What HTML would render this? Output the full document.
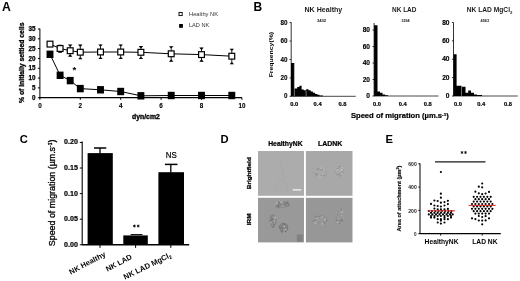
<!DOCTYPE html>
<html><head><meta charset="utf-8"><style>
html,body{margin:0;padding:0;background:#fff;}
svg{display:block;filter:blur(0.38px);}
text{font-family:"Liberation Sans", sans-serif;}
</style></head><body>
<svg width="520" height="281" viewBox="0 0 520 281">
<rect width="520" height="281" fill="#fff"/>
<text x="2.00" y="10.70" font-size="12.2" font-weight="bold" text-anchor="start" fill="#000" >A</text>
<text x="253.60" y="10.50" font-size="12.0" font-weight="bold" text-anchor="start" fill="#000" >B</text>
<text x="19.70" y="143.30" font-size="11.2" font-weight="bold" text-anchor="start" fill="#000" >C</text>
<text x="220.40" y="143.30" font-size="11.2" font-weight="bold" text-anchor="start" fill="#000" >D</text>
<text x="385.50" y="143.30" font-size="11.2" font-weight="bold" text-anchor="start" fill="#000" >E</text>
<line x1="39.90" y1="28.60" x2="39.90" y2="98.20" stroke="#000" stroke-width="1.0" />
<line x1="37.90" y1="97.70" x2="39.90" y2="97.70" stroke="#000" stroke-width="1.0" />
<text x="35.40" y="99.90" font-size="6.3" font-weight="bold" text-anchor="end" fill="#000" stroke="#000" stroke-width="0.25">0</text>
<line x1="37.90" y1="87.89" x2="39.90" y2="87.89" stroke="#000" stroke-width="1.0" />
<text x="35.40" y="90.09" font-size="6.3" font-weight="bold" text-anchor="end" fill="#000" stroke="#000" stroke-width="0.25">5</text>
<line x1="37.90" y1="78.07" x2="39.90" y2="78.07" stroke="#000" stroke-width="1.0" />
<text x="35.40" y="80.27" font-size="6.3" font-weight="bold" text-anchor="end" fill="#000" stroke="#000" stroke-width="0.25">10</text>
<line x1="37.90" y1="68.25" x2="39.90" y2="68.25" stroke="#000" stroke-width="1.0" />
<text x="35.40" y="70.45" font-size="6.3" font-weight="bold" text-anchor="end" fill="#000" stroke="#000" stroke-width="0.25">15</text>
<line x1="37.90" y1="58.44" x2="39.90" y2="58.44" stroke="#000" stroke-width="1.0" />
<text x="35.40" y="60.64" font-size="6.3" font-weight="bold" text-anchor="end" fill="#000" stroke="#000" stroke-width="0.25">20</text>
<line x1="37.90" y1="48.62" x2="39.90" y2="48.62" stroke="#000" stroke-width="1.0" />
<text x="35.40" y="50.83" font-size="6.3" font-weight="bold" text-anchor="end" fill="#000" stroke="#000" stroke-width="0.25">25</text>
<line x1="37.90" y1="38.81" x2="39.90" y2="38.81" stroke="#000" stroke-width="1.0" />
<text x="35.40" y="41.01" font-size="6.3" font-weight="bold" text-anchor="end" fill="#000" stroke="#000" stroke-width="0.25">30</text>
<line x1="37.90" y1="29.00" x2="39.90" y2="29.00" stroke="#000" stroke-width="1.0" />
<text x="35.40" y="31.20" font-size="6.3" font-weight="bold" text-anchor="end" fill="#000" stroke="#000" stroke-width="0.25">35</text>
<line x1="39.40" y1="97.70" x2="242.00" y2="97.70" stroke="#000" stroke-width="1.2" />
<line x1="39.90" y1="97.70" x2="39.90" y2="99.80" stroke="#000" stroke-width="1.0" />
<text x="39.90" y="107.60" font-size="6.3" font-weight="bold" text-anchor="middle" fill="#000" stroke="#000" stroke-width="0.1">0</text>
<line x1="80.30" y1="97.70" x2="80.30" y2="99.80" stroke="#000" stroke-width="1.0" />
<text x="80.30" y="107.60" font-size="6.3" font-weight="bold" text-anchor="middle" fill="#000" stroke="#000" stroke-width="0.1">2</text>
<line x1="120.70" y1="97.70" x2="120.70" y2="99.80" stroke="#000" stroke-width="1.0" />
<text x="120.70" y="107.60" font-size="6.3" font-weight="bold" text-anchor="middle" fill="#000" stroke="#000" stroke-width="0.1">4</text>
<line x1="161.10" y1="97.70" x2="161.10" y2="99.80" stroke="#000" stroke-width="1.0" />
<text x="161.10" y="107.60" font-size="6.3" font-weight="bold" text-anchor="middle" fill="#000" stroke="#000" stroke-width="0.1">6</text>
<line x1="201.50" y1="97.70" x2="201.50" y2="99.80" stroke="#000" stroke-width="1.0" />
<text x="201.50" y="107.60" font-size="6.3" font-weight="bold" text-anchor="middle" fill="#000" stroke="#000" stroke-width="0.1">8</text>
<line x1="241.90" y1="97.70" x2="241.90" y2="99.80" stroke="#000" stroke-width="1.0" />
<text x="241.90" y="107.60" font-size="6.3" font-weight="bold" text-anchor="middle" fill="#000" stroke="#000" stroke-width="0.1">10</text>
<text transform="translate(24.40,62.80) rotate(-90)" x="0" y="0" font-size="7.2" font-weight="bold" text-anchor="middle" fill="#000" textLength="80.50" lengthAdjust="spacingAndGlyphs" stroke="#000" stroke-width="0.3">% of initially settled cells</text>
<text x="132.00" y="118.90" font-size="7.4" font-weight="bold" text-anchor="start" fill="#000" textLength="27.80" lengthAdjust="spacingAndGlyphs" stroke="#000" stroke-width="0.35">dyn/cm2</text>
<polyline points="50.00,44.10 60.10,48.50 70.20,50.70 80.30,52.20 100.50,52.00 120.70,52.00 140.90,52.30 171.20,53.80 201.50,54.60 231.80,56.20" fill="none" stroke="#000" stroke-width="1.0"/>
<polyline points="50.00,54.30 60.10,75.30 70.20,80.60 80.30,88.60 100.50,89.80 120.70,91.50 140.90,95.80 171.20,95.50 201.50,95.50 231.80,95.50" fill="none" stroke="#000" stroke-width="1.0"/>
<line x1="60.10" y1="45.00" x2="60.10" y2="52.50" stroke="#000" stroke-width="0.9" />
<path d="M57.90,44.80 L62.30,44.80 L60.70,46.70 L59.50,46.70 Z" fill="#000"/>
<path d="M57.90,52.70 L62.30,52.70 L60.70,50.80 L59.50,50.80 Z" fill="#000"/>
<line x1="70.20" y1="44.70" x2="70.20" y2="56.50" stroke="#000" stroke-width="0.9" />
<path d="M68.00,44.50 L72.40,44.50 L70.80,46.40 L69.60,46.40 Z" fill="#000"/>
<path d="M68.00,56.70 L72.40,56.70 L70.80,54.80 L69.60,54.80 Z" fill="#000"/>
<line x1="80.30" y1="44.70" x2="80.30" y2="59.10" stroke="#000" stroke-width="0.9" />
<path d="M78.10,44.50 L82.50,44.50 L80.90,46.40 L79.70,46.40 Z" fill="#000"/>
<path d="M78.10,59.30 L82.50,59.30 L80.90,57.40 L79.70,57.40 Z" fill="#000"/>
<line x1="100.50" y1="44.60" x2="100.50" y2="58.90" stroke="#000" stroke-width="0.9" />
<path d="M98.30,44.40 L102.70,44.40 L101.10,46.30 L99.90,46.30 Z" fill="#000"/>
<path d="M98.30,59.10 L102.70,59.10 L101.10,57.20 L99.90,57.20 Z" fill="#000"/>
<line x1="120.70" y1="44.60" x2="120.70" y2="58.90" stroke="#000" stroke-width="0.9" />
<path d="M118.50,44.40 L122.90,44.40 L121.30,46.30 L120.10,46.30 Z" fill="#000"/>
<path d="M118.50,59.10 L122.90,59.10 L121.30,57.20 L120.10,57.20 Z" fill="#000"/>
<line x1="140.90" y1="46.20" x2="140.90" y2="58.90" stroke="#000" stroke-width="0.9" />
<path d="M138.70,46.00 L143.10,46.00 L141.50,47.90 L140.30,47.90 Z" fill="#000"/>
<path d="M138.70,59.10 L143.10,59.10 L141.50,57.20 L140.30,57.20 Z" fill="#000"/>
<line x1="171.20" y1="46.40" x2="171.20" y2="61.50" stroke="#000" stroke-width="0.9" />
<path d="M169.00,46.20 L173.40,46.20 L171.80,48.10 L170.60,48.10 Z" fill="#000"/>
<path d="M169.00,61.70 L173.40,61.70 L171.80,59.80 L170.60,59.80 Z" fill="#000"/>
<line x1="201.50" y1="47.70" x2="201.50" y2="61.50" stroke="#000" stroke-width="0.9" />
<path d="M199.30,47.50 L203.70,47.50 L202.10,49.40 L200.90,49.40 Z" fill="#000"/>
<path d="M199.30,61.70 L203.70,61.70 L202.10,59.80 L200.90,59.80 Z" fill="#000"/>
<line x1="231.80" y1="48.90" x2="231.80" y2="64.10" stroke="#000" stroke-width="0.9" />
<path d="M229.60,48.70 L234.00,48.70 L232.40,50.60 L231.20,50.60 Z" fill="#000"/>
<path d="M229.60,64.30 L234.00,64.30 L232.40,62.40 L231.20,62.40 Z" fill="#000"/>
<rect x="46.55" y="50.60" width="6.90" height="7.40" fill="#000" />
<rect x="56.65" y="71.60" width="6.90" height="7.40" fill="#000" />
<rect x="66.75" y="76.90" width="6.90" height="7.40" fill="#000" />
<rect x="76.85" y="84.90" width="6.90" height="7.40" fill="#000" />
<rect x="97.05" y="86.10" width="6.90" height="7.40" fill="#000" />
<rect x="117.25" y="87.80" width="6.90" height="7.40" fill="#000" />
<rect x="137.45" y="92.10" width="6.90" height="7.40" fill="#000" />
<rect x="167.75" y="91.80" width="6.90" height="7.40" fill="#000" />
<rect x="198.05" y="91.80" width="6.90" height="7.40" fill="#000" />
<rect x="228.35" y="91.80" width="6.90" height="7.40" fill="#000" />
<rect x="47.10" y="41.20" width="5.80" height="5.80" fill="#fff" stroke="#000" stroke-width="1.2" />
<rect x="57.20" y="45.60" width="5.80" height="5.80" fill="#fff" stroke="#000" stroke-width="1.2" />
<rect x="67.30" y="47.80" width="5.80" height="5.80" fill="#fff" stroke="#000" stroke-width="1.2" />
<rect x="77.40" y="49.30" width="5.80" height="5.80" fill="#fff" stroke="#000" stroke-width="1.2" />
<rect x="97.60" y="49.10" width="5.80" height="5.80" fill="#fff" stroke="#000" stroke-width="1.2" />
<rect x="117.80" y="49.10" width="5.80" height="5.80" fill="#fff" stroke="#000" stroke-width="1.2" />
<rect x="138.00" y="49.40" width="5.80" height="5.80" fill="#fff" stroke="#000" stroke-width="1.2" />
<rect x="168.30" y="50.90" width="5.80" height="5.80" fill="#fff" stroke="#000" stroke-width="1.2" />
<rect x="198.60" y="51.70" width="5.80" height="5.80" fill="#fff" stroke="#000" stroke-width="1.2" />
<rect x="228.90" y="53.30" width="5.80" height="5.80" fill="#fff" stroke="#000" stroke-width="1.2" />
<text x="74.30" y="73.00" font-size="9.6" font-weight="bold" text-anchor="middle" fill="#000" >*</text>
<rect x="179.00" y="12.40" width="3.20" height="3.20" fill="#fff" stroke="#000" stroke-width="0.9" />
<rect x="179.10" y="24.00" width="3.80" height="3.80" fill="#000" />
<text x="189.00" y="16.40" font-size="5.8" font-weight="normal" text-anchor="start" fill="#333" textLength="29.00" lengthAdjust="spacingAndGlyphs" >Healthy NK</text>
<text x="189.00" y="26.90" font-size="5.8" font-weight="normal" text-anchor="start" fill="#333" textLength="20.20" lengthAdjust="spacingAndGlyphs" >LAD NK</text>
<line x1="291.20" y1="22.30" x2="291.20" y2="96.60" stroke="#000" stroke-width="0.8" />
<line x1="289.60" y1="96.30" x2="291.20" y2="96.30" stroke="#000" stroke-width="0.8" />
<text x="287.40" y="98.38" font-size="6.3" font-weight="bold" text-anchor="end" fill="#000" stroke="#000" stroke-width="0.1">0</text>
<line x1="289.60" y1="77.88" x2="291.20" y2="77.88" stroke="#000" stroke-width="0.8" />
<text x="287.40" y="79.96" font-size="6.3" font-weight="bold" text-anchor="end" fill="#000" stroke="#000" stroke-width="0.1">20</text>
<line x1="289.60" y1="59.46" x2="291.20" y2="59.46" stroke="#000" stroke-width="0.8" />
<text x="287.40" y="61.54" font-size="6.3" font-weight="bold" text-anchor="end" fill="#000" stroke="#000" stroke-width="0.1">40</text>
<line x1="289.60" y1="41.04" x2="291.20" y2="41.04" stroke="#000" stroke-width="0.8" />
<text x="287.40" y="43.12" font-size="6.3" font-weight="bold" text-anchor="end" fill="#000" stroke="#000" stroke-width="0.1">60</text>
<line x1="289.60" y1="22.62" x2="291.20" y2="22.62" stroke="#000" stroke-width="0.8" />
<text x="287.40" y="24.70" font-size="6.3" font-weight="bold" text-anchor="end" fill="#000" stroke="#000" stroke-width="0.1">80</text>
<line x1="291.20" y1="96.30" x2="355.70" y2="96.30" stroke="#333" stroke-width="0.9" />
<text x="294.20" y="105.50" font-size="6.2" font-weight="bold" text-anchor="middle" fill="#000" textLength="8.00" lengthAdjust="spacingAndGlyphs" stroke="#000" stroke-width="0.2">0.0</text>
<text x="317.60" y="106.30" font-size="6.2" font-weight="bold" text-anchor="middle" fill="#000" textLength="8.00" lengthAdjust="spacingAndGlyphs" stroke="#000" stroke-width="0.2">0.4</text>
<text x="342.40" y="106.30" font-size="6.2" font-weight="bold" text-anchor="middle" fill="#000" textLength="8.00" lengthAdjust="spacingAndGlyphs" stroke="#000" stroke-width="0.2">0.8</text>
<path d="M291.00,96.30 L291.00,63.00 L294.30,63.00 L294.30,88.60 L297.20,88.60 L297.20,87.00 L299.40,87.00 L299.40,85.80 L301.60,85.80 L301.60,89.60 L303.80,89.60 L303.80,90.20 L306.10,90.20 L306.10,89.20 L308.50,89.20 L308.50,90.30 L310.70,90.30 L310.70,91.60 L312.90,91.60 L312.90,92.80 L315.10,92.80 L315.10,93.90 L317.30,93.90 L317.30,94.80 L319.50,94.80 L319.50,95.50 L323.00,95.50 L323.00,96.30 Z" fill="#000"/>
<line x1="294.40" y1="64.00" x2="294.40" y2="96.00" stroke="#bbb" stroke-width="0.6" />
<line x1="306.10" y1="90.50" x2="306.10" y2="96.00" stroke="#bbb" stroke-width="0.6" />
<text x="304.50" y="12.20" font-size="6.8" font-weight="bold" text-anchor="start" fill="#1a1a1a" textLength="37.80" lengthAdjust="spacingAndGlyphs" >NK Healthy</text>
<text x="316.90" y="21.50" font-size="4.4" font-weight="bold" text-anchor="start" fill="#111" textLength="9.30" lengthAdjust="spacingAndGlyphs" >3432</text>
<text transform="translate(273.20,54.60) rotate(-90)" x="0" y="0" font-size="6.2" font-weight="bold" text-anchor="middle" fill="#000" textLength="45.50" lengthAdjust="spacingAndGlyphs" >Frequency(%)</text>
<line x1="374.10" y1="23.00" x2="374.10" y2="96.30" stroke="#000" stroke-width="0.8" />
<line x1="372.50" y1="96.00" x2="374.10" y2="96.00" stroke="#000" stroke-width="0.8" />
<text x="370.00" y="98.18" font-size="6.6" font-weight="bold" text-anchor="end" fill="#000" stroke="#000" stroke-width="0.15">0</text>
<line x1="372.50" y1="79.52" x2="374.10" y2="79.52" stroke="#000" stroke-width="0.8" />
<text x="370.00" y="81.70" font-size="6.6" font-weight="bold" text-anchor="end" fill="#000" stroke="#000" stroke-width="0.15">20</text>
<line x1="372.50" y1="63.04" x2="374.10" y2="63.04" stroke="#000" stroke-width="0.8" />
<text x="370.00" y="65.22" font-size="6.6" font-weight="bold" text-anchor="end" fill="#000" stroke="#000" stroke-width="0.15">40</text>
<line x1="372.50" y1="46.56" x2="374.10" y2="46.56" stroke="#000" stroke-width="0.8" />
<text x="370.00" y="48.74" font-size="6.6" font-weight="bold" text-anchor="end" fill="#000" stroke="#000" stroke-width="0.15">60</text>
<line x1="372.50" y1="30.08" x2="374.10" y2="30.08" stroke="#000" stroke-width="0.8" />
<text x="370.00" y="32.26" font-size="6.6" font-weight="bold" text-anchor="end" fill="#000" stroke="#000" stroke-width="0.15">80</text>
<line x1="374.10" y1="96.00" x2="438.50" y2="96.00" stroke="#333" stroke-width="0.9" />
<text x="377.00" y="105.50" font-size="6.2" font-weight="bold" text-anchor="middle" fill="#000" textLength="8.00" lengthAdjust="spacingAndGlyphs" stroke="#000" stroke-width="0.2">0.0</text>
<text x="402.70" y="106.30" font-size="6.2" font-weight="bold" text-anchor="middle" fill="#000" textLength="8.00" lengthAdjust="spacingAndGlyphs" stroke="#000" stroke-width="0.2">0.4</text>
<text x="427.80" y="106.30" font-size="6.2" font-weight="bold" text-anchor="middle" fill="#000" textLength="8.00" lengthAdjust="spacingAndGlyphs" stroke="#000" stroke-width="0.2">0.8</text>
<path d="M374.10,96.00 L374.10,25.30 L377.50,25.30 L377.50,91.60 L380.00,91.60 L380.00,92.80 L382.50,92.80 L382.50,94.40 L385.00,94.40 L385.00,95.30 L388.00,95.30 L388.00,96.00 Z" fill="#000"/>
<text x="392.00" y="12.20" font-size="6.8" font-weight="bold" text-anchor="start" fill="#1a1a1a" textLength="24.50" lengthAdjust="spacingAndGlyphs" >NK LAD</text>
<text x="401.50" y="21.50" font-size="4.4" font-weight="bold" text-anchor="start" fill="#111" textLength="8.10" lengthAdjust="spacingAndGlyphs" >3294</text>
<line x1="453.50" y1="22.50" x2="453.50" y2="96.30" stroke="#000" stroke-width="0.8" />
<line x1="451.90" y1="96.00" x2="453.50" y2="96.00" stroke="#000" stroke-width="0.8" />
<text x="449.50" y="98.18" font-size="6.6" font-weight="bold" text-anchor="end" fill="#000" stroke="#000" stroke-width="0.15">0</text>
<line x1="451.90" y1="77.62" x2="453.50" y2="77.62" stroke="#000" stroke-width="0.8" />
<text x="449.50" y="79.80" font-size="6.6" font-weight="bold" text-anchor="end" fill="#000" stroke="#000" stroke-width="0.15">20</text>
<line x1="451.90" y1="59.24" x2="453.50" y2="59.24" stroke="#000" stroke-width="0.8" />
<text x="449.50" y="61.42" font-size="6.6" font-weight="bold" text-anchor="end" fill="#000" stroke="#000" stroke-width="0.15">40</text>
<line x1="451.90" y1="40.86" x2="453.50" y2="40.86" stroke="#000" stroke-width="0.8" />
<text x="449.50" y="43.04" font-size="6.6" font-weight="bold" text-anchor="end" fill="#000" stroke="#000" stroke-width="0.15">60</text>
<line x1="451.90" y1="22.48" x2="453.50" y2="22.48" stroke="#000" stroke-width="0.8" />
<text x="449.50" y="24.66" font-size="6.6" font-weight="bold" text-anchor="end" fill="#000" stroke="#000" stroke-width="0.15">80</text>
<line x1="453.50" y1="96.00" x2="517.80" y2="96.00" stroke="#333" stroke-width="0.9" />
<text x="458.00" y="105.50" font-size="6.2" font-weight="bold" text-anchor="middle" fill="#000" textLength="8.00" lengthAdjust="spacingAndGlyphs" stroke="#000" stroke-width="0.2">0.0</text>
<text x="481.20" y="106.30" font-size="6.2" font-weight="bold" text-anchor="middle" fill="#000" textLength="8.00" lengthAdjust="spacingAndGlyphs" stroke="#000" stroke-width="0.2">0.4</text>
<text x="508.00" y="106.30" font-size="6.2" font-weight="bold" text-anchor="middle" fill="#000" textLength="8.00" lengthAdjust="spacingAndGlyphs" stroke="#000" stroke-width="0.2">0.8</text>
<path d="M453.60,96.00 L453.60,54.30 L456.60,54.30 L456.60,85.80 L461.50,85.80 L461.50,86.70 L465.50,86.70 L465.50,92.70 L468.20,92.70 L468.20,90.50 L471.00,90.50 L471.00,92.70 L474.00,92.70 L474.00,94.40 L477.00,94.40 L477.00,95.10 L482.00,95.10 L482.00,96.00 Z" fill="#000"/>
<line x1="461.50" y1="86.50" x2="461.50" y2="95.70" stroke="#bbb" stroke-width="0.6" />
<text x="466.80" y="12.20" font-size="6.8" font-weight="bold" text-anchor="start" fill="#1a1a1a" textLength="45.60" lengthAdjust="spacingAndGlyphs" >NK LAD MgCl<tspan font-size="4.4" dy="1.9">2</tspan></text>
<text x="480.60" y="21.50" font-size="4.4" font-weight="bold" text-anchor="start" fill="#111" textLength="8.40" lengthAdjust="spacingAndGlyphs" >4563</text>
<text x="350.90" y="118.20" font-size="7.0" font-weight="bold" text-anchor="start" fill="#000" textLength="98.00" lengthAdjust="spacingAndGlyphs" stroke="#000" stroke-width="0.2">Speed of migration (µm.s<tspan font-size="4.4" dy="-2.4">-1</tspan><tspan dy="2.4">)</tspan></text>
<line x1="82.20" y1="141.40" x2="82.20" y2="245.30" stroke="#000" stroke-width="1.1" />
<line x1="79.80" y1="244.75" x2="82.20" y2="244.75" stroke="#000" stroke-width="1.0" />
<text x="77.90" y="246.65" font-size="6.6" font-weight="bold" text-anchor="end" fill="#000" textLength="13.80" lengthAdjust="spacingAndGlyphs" stroke="#000" stroke-width="0.2">0.00</text>
<line x1="79.80" y1="219.18" x2="82.20" y2="219.18" stroke="#000" stroke-width="1.0" />
<text x="77.90" y="221.08" font-size="6.6" font-weight="bold" text-anchor="end" fill="#000" textLength="13.80" lengthAdjust="spacingAndGlyphs" stroke="#000" stroke-width="0.2">0.05</text>
<line x1="79.80" y1="193.60" x2="82.20" y2="193.60" stroke="#000" stroke-width="1.0" />
<text x="77.90" y="195.50" font-size="6.6" font-weight="bold" text-anchor="end" fill="#000" textLength="13.80" lengthAdjust="spacingAndGlyphs" stroke="#000" stroke-width="0.2">0.10</text>
<line x1="79.80" y1="168.03" x2="82.20" y2="168.03" stroke="#000" stroke-width="1.0" />
<text x="77.90" y="169.93" font-size="6.6" font-weight="bold" text-anchor="end" fill="#000" textLength="13.80" lengthAdjust="spacingAndGlyphs" stroke="#000" stroke-width="0.2">0.15</text>
<line x1="79.80" y1="142.45" x2="82.20" y2="142.45" stroke="#000" stroke-width="1.0" />
<text x="77.90" y="144.35" font-size="6.6" font-weight="bold" text-anchor="end" fill="#000" textLength="13.80" lengthAdjust="spacingAndGlyphs" stroke="#000" stroke-width="0.2">0.20</text>
<line x1="82.20" y1="244.75" x2="189.20" y2="244.75" stroke="#000" stroke-width="1.3" />
<line x1="100.00" y1="244.75" x2="100.00" y2="247.90" stroke="#000" stroke-width="1.0" />
<line x1="135.60" y1="244.75" x2="135.60" y2="247.90" stroke="#000" stroke-width="1.0" />
<line x1="170.80" y1="244.75" x2="170.80" y2="247.90" stroke="#000" stroke-width="1.0" />
<rect x="87.60" y="153.10" width="25.20" height="91.65" fill="#000" />
<line x1="100.00" y1="148.00" x2="100.00" y2="153.50" stroke="#000" stroke-width="1.3" />
<line x1="94.00" y1="148.00" x2="106.30" y2="148.00" stroke="#000" stroke-width="1.5" />
<rect x="123.30" y="235.40" width="24.50" height="9.35" fill="#000" />
<line x1="130.60" y1="234.60" x2="142.50" y2="234.60" stroke="#000" stroke-width="1.0" />
<rect x="158.40" y="172.20" width="25.60" height="72.55" fill="#000" />
<line x1="170.80" y1="164.40" x2="170.80" y2="172.50" stroke="#000" stroke-width="1.3" />
<line x1="164.90" y1="164.40" x2="177.50" y2="164.40" stroke="#000" stroke-width="1.5" />
<line x1="134.40" y1="224.55" x2="134.40" y2="227.45" stroke="#000" stroke-width="0.8" />
<line x1="133.14" y1="225.28" x2="135.66" y2="226.72" stroke="#000" stroke-width="0.8" />
<line x1="133.14" y1="226.72" x2="135.66" y2="225.28" stroke="#000" stroke-width="0.8" />
<line x1="138.20" y1="224.55" x2="138.20" y2="227.45" stroke="#000" stroke-width="0.8" />
<line x1="136.94" y1="225.28" x2="139.46" y2="226.72" stroke="#000" stroke-width="0.8" />
<line x1="136.94" y1="226.72" x2="139.46" y2="225.28" stroke="#000" stroke-width="0.8" />
<text x="165.80" y="158.10" font-size="8.6" font-weight="normal" text-anchor="start" fill="#000" textLength="11.00" lengthAdjust="spacingAndGlyphs" stroke="#000" stroke-width="0.2">NS</text>
<text transform="translate(54.80,192.90) rotate(-90)" x="0" y="0" font-size="8.4" font-weight="normal" text-anchor="middle" fill="#000" textLength="106.50" lengthAdjust="spacingAndGlyphs" stroke="#000" stroke-width="0.3">Speed of migration (µm.s<tspan font-size="4.6" dy="-2.6">-1</tspan><tspan dy="2.6">)</tspan></text>
<text transform="translate(106.20,255.90) rotate(-28)" x="0" y="0" font-size="7.5" font-weight="bold" text-anchor="end" fill="#000" >NK Healthy</text>
<text transform="translate(132.50,258.50) rotate(-28)" x="0" y="0" font-size="7.5" font-weight="bold" text-anchor="end" fill="#000" >NK LAD</text>
<text transform="translate(171.90,256.80) rotate(-26)" x="0" y="0" font-size="7.6" font-weight="bold" text-anchor="end" fill="#000" >NK LAD MgCl<tspan font-size="5" dy="1.5">2</tspan></text>
<text x="268.20" y="145.90" font-size="6.4" font-weight="bold" text-anchor="start" fill="#000" textLength="34.40" lengthAdjust="spacingAndGlyphs" stroke="#000" stroke-width="0.2">HealthyNK</text>
<text x="317.90" y="145.90" font-size="6.4" font-weight="bold" text-anchor="start" fill="#000" textLength="24.40" lengthAdjust="spacingAndGlyphs" stroke="#000" stroke-width="0.2">LADNK</text>
<text transform="translate(251.30,173.20) rotate(-90)" x="0" y="0" font-size="6.0" font-weight="bold" text-anchor="middle" fill="#000" textLength="32.00" lengthAdjust="spacingAndGlyphs" stroke="#000" stroke-width="0.25">Brightfield</text>
<text transform="translate(250.90,219.40) rotate(-90)" x="0" y="0" font-size="6.0" font-weight="bold" text-anchor="middle" fill="#000" textLength="11.70" lengthAdjust="spacingAndGlyphs" stroke="#000" stroke-width="0.25">IRM</text>
<defs><filter id="bl" x="-20%" y="-20%" width="140%" height="140%"><feGaussianBlur stdDeviation="0.7"/></filter><filter id="bl2" x="-20%" y="-20%" width="140%" height="140%"><feGaussianBlur stdDeviation="0.45"/></filter></defs>
<rect x="258.0" y="151.0" width="46.0" height="44.8" fill="#acacac"/>
<rect x="305.9" y="151.0" width="46.6" height="44.8" fill="#a8a8a8"/>
<rect x="258.0" y="197.8" width="46.0" height="44.6" fill="#999"/>
<rect x="305.9" y="197.8" width="46.6" height="44.6" fill="#979797"/>
<g filter="url(#bl)" opacity="0.2"><path d="M280,160 C283,165 281,172 284,178 M276,190 C277,183 281,178 284,180 C287,183 286,189 288,192" stroke="#8a8a8a" stroke-width="0.8" fill="none"/></g>
<g filter="url(#bl2)" opacity="0.8"><circle cx="324.50" cy="175.53" r="0.63" fill="#c6c6c6"/><circle cx="314.91" cy="172.40" r="0.89" fill="#c6c6c6"/><circle cx="323.56" cy="173.80" r="0.72" fill="#c6c6c6"/><circle cx="320.51" cy="169.66" r="0.86" fill="#8c8c8c"/><circle cx="321.10" cy="176.77" r="0.52" fill="#c6c6c6"/><circle cx="325.70" cy="172.89" r="0.69" fill="#c6c6c6"/><circle cx="321.29" cy="175.70" r="0.61" fill="#8c8c8c"/><circle cx="315.18" cy="173.68" r="0.62" fill="#8c8c8c"/><circle cx="321.24" cy="175.78" r="0.51" fill="#8c8c8c"/><circle cx="323.13" cy="169.11" r="0.59" fill="#c6c6c6"/><circle cx="326.71" cy="172.10" r="0.67" fill="#8c8c8c"/><circle cx="319.12" cy="168.32" r="0.71" fill="#c6c6c6"/><circle cx="323.07" cy="168.82" r="0.79" fill="#8c8c8c"/><circle cx="324.99" cy="169.40" r="0.79" fill="#8c8c8c"/><circle cx="324.77" cy="172.97" r="0.71" fill="#c6c6c6"/><circle cx="322.80" cy="175.60" r="0.84" fill="#c6c6c6"/><circle cx="316.48" cy="174.79" r="0.89" fill="#8c8c8c"/><circle cx="315.12" cy="171.85" r="0.51" fill="#8c8c8c"/><circle cx="326.02" cy="173.39" r="0.80" fill="#c6c6c6"/><circle cx="316.70" cy="174.15" r="0.99" fill="#8c8c8c"/><circle cx="320.92" cy="168.62" r="0.62" fill="#c6c6c6"/><circle cx="313.44" cy="171.91" r="0.73" fill="#8c8c8c"/><circle cx="319.52" cy="176.00" r="0.50" fill="#c6c6c6"/><circle cx="321.54" cy="168.13" r="0.87" fill="#c6c6c6"/><circle cx="322.20" cy="168.88" r="0.71" fill="#8c8c8c"/><circle cx="326.34" cy="173.81" r="0.60" fill="#8c8c8c"/><circle cx="314.80" cy="172.19" r="0.67" fill="#8c8c8c"/><circle cx="314.56" cy="171.37" r="0.73" fill="#c6c6c6"/><circle cx="324.77" cy="172.84" r="0.79" fill="#8c8c8c"/><circle cx="324.27" cy="169.06" r="0.91" fill="#c6c6c6"/><circle cx="319.99" cy="176.60" r="0.54" fill="#c6c6c6"/><circle cx="324.18" cy="172.58" r="0.62" fill="#c6c6c6"/><circle cx="324.69" cy="174.76" r="0.53" fill="#8c8c8c"/><circle cx="323.17" cy="175.41" r="0.64" fill="#8c8c8c"/><circle cx="318.93" cy="168.86" r="0.74" fill="#8c8c8c"/><circle cx="325.25" cy="172.80" r="0.59" fill="#8c8c8c"/><circle cx="325.34" cy="175.09" r="0.60" fill="#8c8c8c"/><circle cx="315.17" cy="169.68" r="0.51" fill="#8c8c8c"/><circle cx="323.89" cy="175.53" r="0.85" fill="#8c8c8c"/><circle cx="317.77" cy="168.95" r="0.99" fill="#8c8c8c"/></g>
<g filter="url(#bl2)" opacity="0.8"><circle cx="343.35" cy="169.86" r="0.54" fill="#8c8c8c"/><circle cx="341.41" cy="167.36" r="0.65" fill="#c6c6c6"/><circle cx="336.99" cy="168.61" r="0.58" fill="#8c8c8c"/><circle cx="336.92" cy="172.77" r="1.00" fill="#c6c6c6"/><circle cx="342.65" cy="169.93" r="0.63" fill="#8c8c8c"/><circle cx="341.87" cy="171.86" r="0.66" fill="#8c8c8c"/><circle cx="336.83" cy="174.49" r="0.78" fill="#8c8c8c"/><circle cx="339.80" cy="174.12" r="0.57" fill="#8c8c8c"/><circle cx="335.62" cy="170.88" r="0.59" fill="#c6c6c6"/><circle cx="342.46" cy="168.35" r="0.95" fill="#c6c6c6"/><circle cx="339.89" cy="166.63" r="0.99" fill="#8c8c8c"/><circle cx="342.08" cy="170.43" r="0.86" fill="#c6c6c6"/><circle cx="336.51" cy="172.17" r="0.96" fill="#8c8c8c"/><circle cx="335.90" cy="171.18" r="0.94" fill="#8c8c8c"/><circle cx="342.08" cy="168.92" r="0.96" fill="#8c8c8c"/><circle cx="339.09" cy="167.32" r="0.66" fill="#8c8c8c"/><circle cx="338.80" cy="168.12" r="0.63" fill="#c6c6c6"/><circle cx="341.98" cy="169.32" r="0.85" fill="#c6c6c6"/><circle cx="336.44" cy="171.09" r="0.79" fill="#c6c6c6"/><circle cx="338.60" cy="174.28" r="0.97" fill="#8c8c8c"/><circle cx="337.88" cy="169.07" r="0.86" fill="#c6c6c6"/><circle cx="341.78" cy="169.39" r="0.53" fill="#c6c6c6"/><circle cx="338.03" cy="168.36" r="0.94" fill="#8c8c8c"/><circle cx="342.09" cy="173.68" r="0.62" fill="#c6c6c6"/><circle cx="340.53" cy="175.84" r="0.86" fill="#8c8c8c"/><circle cx="342.44" cy="171.93" r="0.84" fill="#8c8c8c"/></g>
<g filter="url(#bl)" opacity="0.75"><path d="M275,207 C277,203 281,204 283,202 C285,200 289,201 289.5,203.5 C290,206 287,207 284,207.5 C281,208 279,209 275,207 Z" fill="#808080"/><path d="M270,216 C272,213 276,214 276.5,218 C277,222 276,226 273,228 C270,227 269,224 269.5,220 Z" fill="#808080"/><path d="M279,226 C280,223 284,222.5 287,224 C289,226 288.5,230 286,232 C283,233 280,231.5 279,229 Z" fill="#808080"/><rect x="296.8" y="234.5" width="6" height="7.4" fill="#7a7a7a"/></g>
<g filter="url(#bl2)" opacity="0.8"><circle cx="282.86" cy="206.41" r="0.80" fill="#707070"/><circle cx="281.33" cy="204.03" r="0.92" fill="#707070"/><circle cx="282.32" cy="205.76" r="0.74" fill="#b8b8b8"/><circle cx="284.82" cy="202.96" r="0.58" fill="#b8b8b8"/><circle cx="278.49" cy="202.68" r="0.87" fill="#707070"/><circle cx="281.72" cy="203.92" r="0.80" fill="#b8b8b8"/><circle cx="282.14" cy="204.93" r="0.74" fill="#b8b8b8"/><circle cx="281.31" cy="202.11" r="0.96" fill="#b8b8b8"/><circle cx="277.90" cy="205.93" r="0.97" fill="#707070"/><circle cx="283.97" cy="203.94" r="0.61" fill="#707070"/><circle cx="286.69" cy="204.13" r="0.65" fill="#b8b8b8"/><circle cx="278.47" cy="204.43" r="0.79" fill="#707070"/><circle cx="277.17" cy="203.25" r="0.96" fill="#b8b8b8"/><circle cx="286.51" cy="202.47" r="0.58" fill="#b8b8b8"/><circle cx="286.59" cy="202.54" r="0.78" fill="#b8b8b8"/><circle cx="281.83" cy="203.34" r="0.79" fill="#b8b8b8"/><circle cx="282.14" cy="205.14" r="0.99" fill="#b8b8b8"/><circle cx="287.44" cy="205.73" r="0.58" fill="#707070"/><circle cx="280.95" cy="206.69" r="0.52" fill="#b8b8b8"/><circle cx="281.46" cy="204.14" r="0.67" fill="#b8b8b8"/><circle cx="287.22" cy="202.75" r="1.00" fill="#707070"/><circle cx="281.84" cy="205.17" r="0.52" fill="#707070"/><circle cx="283.85" cy="206.07" r="0.58" fill="#b8b8b8"/><circle cx="288.34" cy="205.14" r="0.98" fill="#707070"/><circle cx="285.68" cy="203.53" r="0.76" fill="#707070"/><circle cx="279.40" cy="202.92" r="0.81" fill="#707070"/><circle cx="286.81" cy="203.83" r="0.86" fill="#707070"/><circle cx="282.78" cy="205.92" r="0.76" fill="#b8b8b8"/><circle cx="281.84" cy="204.42" r="0.79" fill="#707070"/><circle cx="287.56" cy="204.76" r="0.53" fill="#b8b8b8"/></g>
<g filter="url(#bl2)" opacity="0.8"><circle cx="272.90" cy="222.92" r="0.58" fill="#707070"/><circle cx="274.77" cy="222.54" r="0.90" fill="#b8b8b8"/><circle cx="272.95" cy="218.19" r="0.64" fill="#707070"/><circle cx="273.32" cy="222.73" r="0.96" fill="#707070"/><circle cx="274.25" cy="216.26" r="0.60" fill="#b8b8b8"/><circle cx="271.81" cy="225.42" r="0.93" fill="#b8b8b8"/><circle cx="273.53" cy="219.79" r="0.84" fill="#b8b8b8"/><circle cx="271.37" cy="220.91" r="0.54" fill="#707070"/><circle cx="275.70" cy="218.77" r="0.65" fill="#707070"/><circle cx="274.96" cy="218.54" r="0.92" fill="#b8b8b8"/><circle cx="270.62" cy="220.80" r="0.72" fill="#707070"/><circle cx="273.79" cy="223.81" r="0.52" fill="#b8b8b8"/><circle cx="275.38" cy="222.36" r="0.77" fill="#707070"/><circle cx="270.84" cy="221.63" r="0.60" fill="#b8b8b8"/><circle cx="271.49" cy="222.41" r="0.64" fill="#b8b8b8"/><circle cx="270.99" cy="225.08" r="0.78" fill="#707070"/><circle cx="273.69" cy="219.92" r="0.61" fill="#707070"/><circle cx="273.05" cy="216.31" r="0.67" fill="#707070"/><circle cx="273.81" cy="224.65" r="0.85" fill="#707070"/><circle cx="275.44" cy="217.43" r="0.98" fill="#b8b8b8"/><circle cx="274.62" cy="221.37" r="0.89" fill="#b8b8b8"/><circle cx="270.01" cy="224.11" r="0.91" fill="#b8b8b8"/><circle cx="272.40" cy="223.53" r="0.57" fill="#707070"/><circle cx="270.35" cy="224.98" r="0.50" fill="#707070"/><circle cx="274.14" cy="221.69" r="0.68" fill="#b8b8b8"/><circle cx="272.53" cy="222.81" r="0.71" fill="#b8b8b8"/><circle cx="273.02" cy="222.41" r="0.58" fill="#707070"/><circle cx="272.22" cy="218.92" r="0.75" fill="#707070"/><circle cx="272.82" cy="226.99" r="0.76" fill="#707070"/><circle cx="273.12" cy="217.20" r="0.74" fill="#b8b8b8"/></g>
<g filter="url(#bl2)" opacity="0.8"><circle cx="280.66" cy="225.16" r="0.97" fill="#b8b8b8"/><circle cx="283.22" cy="223.58" r="0.73" fill="#707070"/><circle cx="286.97" cy="226.56" r="0.56" fill="#b8b8b8"/><circle cx="281.26" cy="228.22" r="0.79" fill="#707070"/><circle cx="285.63" cy="227.97" r="0.96" fill="#707070"/><circle cx="283.68" cy="226.05" r="0.57" fill="#b8b8b8"/><circle cx="282.29" cy="226.75" r="0.94" fill="#707070"/><circle cx="284.04" cy="229.78" r="0.94" fill="#b8b8b8"/><circle cx="282.40" cy="231.98" r="0.84" fill="#707070"/><circle cx="284.75" cy="231.90" r="0.98" fill="#b8b8b8"/><circle cx="285.47" cy="226.31" r="0.58" fill="#707070"/><circle cx="284.22" cy="228.69" r="0.80" fill="#707070"/><circle cx="287.29" cy="227.88" r="0.65" fill="#707070"/><circle cx="284.83" cy="225.03" r="0.74" fill="#707070"/><circle cx="283.19" cy="226.79" r="0.51" fill="#b8b8b8"/><circle cx="283.49" cy="223.76" r="0.89" fill="#707070"/><circle cx="281.17" cy="230.29" r="0.52" fill="#707070"/><circle cx="285.39" cy="231.70" r="0.88" fill="#707070"/><circle cx="287.54" cy="225.97" r="0.68" fill="#707070"/><circle cx="279.50" cy="227.20" r="0.87" fill="#707070"/><circle cx="284.75" cy="223.90" r="0.97" fill="#707070"/><circle cx="285.76" cy="229.19" r="0.96" fill="#b8b8b8"/><circle cx="281.13" cy="231.37" r="0.66" fill="#707070"/><circle cx="282.71" cy="229.49" r="0.57" fill="#707070"/><circle cx="281.79" cy="223.72" r="0.52" fill="#707070"/><circle cx="286.85" cy="227.53" r="0.62" fill="#707070"/><circle cx="280.03" cy="225.57" r="0.71" fill="#707070"/><circle cx="287.64" cy="229.24" r="0.75" fill="#707070"/><circle cx="284.38" cy="226.45" r="0.97" fill="#b8b8b8"/><circle cx="280.71" cy="224.95" r="0.72" fill="#707070"/></g>
<g filter="url(#bl2)" opacity="0.8"><circle cx="321.88" cy="215.89" r="0.63" fill="#7c7c7c"/><circle cx="326.47" cy="220.01" r="0.88" fill="#7c7c7c"/><circle cx="315.24" cy="222.98" r="0.90" fill="#7c7c7c"/><circle cx="319.28" cy="216.57" r="0.84" fill="#7c7c7c"/><circle cx="322.14" cy="223.50" r="0.63" fill="#b6b6b6"/><circle cx="322.15" cy="216.22" r="0.67" fill="#b6b6b6"/><circle cx="325.76" cy="222.33" r="0.72" fill="#b6b6b6"/><circle cx="324.12" cy="221.68" r="0.65" fill="#b6b6b6"/><circle cx="325.94" cy="218.86" r="0.83" fill="#7c7c7c"/><circle cx="315.31" cy="223.45" r="0.76" fill="#b6b6b6"/><circle cx="315.95" cy="216.83" r="0.99" fill="#b6b6b6"/><circle cx="325.40" cy="220.60" r="0.65" fill="#b6b6b6"/><circle cx="316.09" cy="218.50" r="0.76" fill="#b6b6b6"/><circle cx="324.80" cy="222.65" r="0.60" fill="#7c7c7c"/><circle cx="315.26" cy="220.30" r="0.93" fill="#7c7c7c"/><circle cx="318.61" cy="217.47" r="0.51" fill="#b6b6b6"/><circle cx="316.39" cy="223.84" r="0.65" fill="#b6b6b6"/><circle cx="315.99" cy="222.37" r="1.00" fill="#7c7c7c"/><circle cx="325.37" cy="221.15" r="0.70" fill="#b6b6b6"/><circle cx="325.08" cy="219.63" r="0.95" fill="#b6b6b6"/><circle cx="316.54" cy="216.14" r="0.92" fill="#7c7c7c"/><circle cx="321.71" cy="216.49" r="0.85" fill="#7c7c7c"/><circle cx="316.13" cy="221.52" r="0.63" fill="#b6b6b6"/><circle cx="313.16" cy="220.32" r="0.51" fill="#7c7c7c"/><circle cx="324.45" cy="222.67" r="0.63" fill="#7c7c7c"/><circle cx="313.01" cy="221.34" r="0.71" fill="#7c7c7c"/><circle cx="324.58" cy="217.35" r="0.74" fill="#7c7c7c"/><circle cx="315.26" cy="220.39" r="0.65" fill="#7c7c7c"/><circle cx="321.81" cy="216.91" r="0.99" fill="#b6b6b6"/><circle cx="324.90" cy="218.43" r="0.66" fill="#b6b6b6"/><circle cx="315.26" cy="222.15" r="0.97" fill="#b6b6b6"/><circle cx="318.90" cy="222.57" r="0.53" fill="#7c7c7c"/><circle cx="326.70" cy="220.78" r="0.86" fill="#7c7c7c"/><circle cx="315.24" cy="223.43" r="0.53" fill="#b6b6b6"/><circle cx="322.61" cy="224.23" r="0.71" fill="#b6b6b6"/><circle cx="321.40" cy="215.84" r="0.73" fill="#7c7c7c"/><circle cx="324.44" cy="221.98" r="0.81" fill="#7c7c7c"/><circle cx="316.25" cy="218.18" r="0.55" fill="#b6b6b6"/><circle cx="325.06" cy="222.41" r="0.95" fill="#7c7c7c"/><circle cx="315.46" cy="217.08" r="0.92" fill="#7c7c7c"/></g>
<g filter="url(#bl2)" opacity="0.8"><circle cx="338.52" cy="221.28" r="0.54" fill="#b6b6b6"/><circle cx="336.92" cy="215.13" r="0.75" fill="#7c7c7c"/><circle cx="342.38" cy="217.98" r="0.55" fill="#7c7c7c"/><circle cx="336.49" cy="220.05" r="0.61" fill="#7c7c7c"/><circle cx="337.03" cy="210.61" r="0.70" fill="#7c7c7c"/><circle cx="341.81" cy="215.76" r="0.64" fill="#b6b6b6"/><circle cx="341.05" cy="220.61" r="0.91" fill="#7c7c7c"/><circle cx="340.91" cy="222.75" r="0.69" fill="#b6b6b6"/><circle cx="337.44" cy="215.01" r="0.60" fill="#7c7c7c"/><circle cx="338.39" cy="210.76" r="0.79" fill="#7c7c7c"/><circle cx="337.07" cy="218.20" r="0.85" fill="#b6b6b6"/><circle cx="339.71" cy="223.36" r="0.94" fill="#7c7c7c"/><circle cx="339.26" cy="210.71" r="0.56" fill="#b6b6b6"/><circle cx="336.65" cy="220.20" r="0.74" fill="#7c7c7c"/><circle cx="342.74" cy="218.26" r="0.79" fill="#b6b6b6"/><circle cx="341.49" cy="212.32" r="0.80" fill="#b6b6b6"/><circle cx="337.06" cy="213.40" r="0.97" fill="#b6b6b6"/><circle cx="336.41" cy="217.67" r="0.85" fill="#7c7c7c"/><circle cx="337.33" cy="209.81" r="0.64" fill="#b6b6b6"/><circle cx="337.16" cy="221.24" r="0.73" fill="#7c7c7c"/><circle cx="340.76" cy="221.04" r="0.88" fill="#7c7c7c"/><circle cx="341.36" cy="220.63" r="0.94" fill="#7c7c7c"/><circle cx="342.13" cy="219.61" r="0.94" fill="#7c7c7c"/><circle cx="341.10" cy="209.33" r="0.71" fill="#7c7c7c"/><circle cx="337.33" cy="222.69" r="0.58" fill="#b6b6b6"/><circle cx="340.73" cy="221.54" r="0.74" fill="#7c7c7c"/><circle cx="337.41" cy="213.45" r="0.71" fill="#7c7c7c"/><circle cx="337.50" cy="221.51" r="0.85" fill="#b6b6b6"/><circle cx="336.45" cy="215.82" r="0.53" fill="#b6b6b6"/><circle cx="342.36" cy="212.01" r="0.90" fill="#b6b6b6"/><circle cx="337.41" cy="220.40" r="0.82" fill="#7c7c7c"/><circle cx="341.70" cy="218.42" r="0.58" fill="#7c7c7c"/><circle cx="338.40" cy="220.71" r="0.58" fill="#7c7c7c"/><circle cx="341.81" cy="220.14" r="0.94" fill="#7c7c7c"/></g>
<line x1="292.70" y1="189.90" x2="301.20" y2="189.90" stroke="#f4f4f4" stroke-width="1.3" />
<line x1="420.00" y1="163.40" x2="420.00" y2="233.90" stroke="#000" stroke-width="1.0" />
<line x1="418.30" y1="233.60" x2="420.00" y2="233.60" stroke="#000" stroke-width="0.9" />
<text x="416.50" y="235.80" font-size="4.6" font-weight="bold" text-anchor="end" fill="#222" >0</text>
<line x1="418.30" y1="210.34" x2="420.00" y2="210.34" stroke="#000" stroke-width="0.9" />
<text x="416.70" y="212.74" font-size="4.6" font-weight="bold" text-anchor="end" fill="#222" textLength="8.40" lengthAdjust="spacingAndGlyphs" >200</text>
<line x1="418.30" y1="187.08" x2="420.00" y2="187.08" stroke="#000" stroke-width="0.9" />
<text x="416.70" y="189.48" font-size="4.6" font-weight="bold" text-anchor="end" fill="#222" textLength="8.40" lengthAdjust="spacingAndGlyphs" >400</text>
<line x1="418.30" y1="163.82" x2="420.00" y2="163.82" stroke="#000" stroke-width="0.9" />
<text x="416.70" y="166.22" font-size="4.6" font-weight="bold" text-anchor="end" fill="#222" textLength="8.40" lengthAdjust="spacingAndGlyphs" >600</text>
<line x1="419.50" y1="233.60" x2="500.80" y2="233.60" stroke="#000" stroke-width="1.1" />
<line x1="440.60" y1="233.60" x2="440.60" y2="235.60" stroke="#000" stroke-width="0.9" />
<line x1="482.20" y1="233.60" x2="482.20" y2="235.60" stroke="#000" stroke-width="0.9" />
<line x1="435.00" y1="161.80" x2="485.50" y2="161.80" stroke="#1a1a1a" stroke-width="1.25" />
<line x1="462.00" y1="151.10" x2="462.00" y2="153.90" stroke="#000" stroke-width="0.8" />
<line x1="460.79" y1="151.80" x2="463.21" y2="153.20" stroke="#000" stroke-width="0.8" />
<line x1="460.79" y1="153.20" x2="463.21" y2="151.80" stroke="#000" stroke-width="0.8" />
<line x1="465.50" y1="151.10" x2="465.50" y2="153.90" stroke="#000" stroke-width="0.8" />
<line x1="464.29" y1="151.80" x2="466.71" y2="153.20" stroke="#000" stroke-width="0.8" />
<line x1="464.29" y1="153.20" x2="466.71" y2="151.80" stroke="#000" stroke-width="0.8" />
<text x="424.60" y="243.50" font-size="6.3" font-weight="bold" text-anchor="start" fill="#000" textLength="33.90" lengthAdjust="spacingAndGlyphs" >HealthyNK</text>
<text x="472.20" y="243.50" font-size="6.3" font-weight="bold" text-anchor="start" fill="#000" textLength="25.40" lengthAdjust="spacingAndGlyphs" >LAD NK</text>
<text transform="translate(400.90,198.50) rotate(-90)" x="0" y="0" font-size="4.9" font-weight="bold" text-anchor="middle" fill="#111" textLength="66.00" lengthAdjust="spacingAndGlyphs" stroke="#111" stroke-width="0.15">Area of attachment (µm<tspan font-size="3.4" dy="-1.8">2</tspan><tspan dy="1.8">)</tspan></text>
<circle cx="440.90" cy="172.00" r="1.08" fill="#000"/>
<circle cx="440.90" cy="193.70" r="1.08" fill="#000"/>
<circle cx="440.90" cy="197.70" r="1.08" fill="#000"/>
<circle cx="434.40" cy="200.50" r="1.08" fill="#000"/>
<circle cx="437.70" cy="201.00" r="1.08" fill="#000"/>
<circle cx="444.50" cy="202.10" r="1.08" fill="#000"/>
<circle cx="447.90" cy="200.80" r="1.08" fill="#000"/>
<circle cx="440.90" cy="202.70" r="1.08" fill="#000"/>
<circle cx="431.00" cy="203.90" r="1.08" fill="#000"/>
<circle cx="434.40" cy="205.50" r="1.08" fill="#000"/>
<circle cx="437.70" cy="206.00" r="1.08" fill="#000"/>
<circle cx="440.90" cy="206.50" r="1.08" fill="#000"/>
<circle cx="444.50" cy="205.50" r="1.08" fill="#000"/>
<circle cx="447.90" cy="204.10" r="1.08" fill="#000"/>
<circle cx="437.70" cy="209.30" r="1.08" fill="#000"/>
<circle cx="440.90" cy="209.30" r="1.08" fill="#000"/>
<circle cx="444.50" cy="209.30" r="1.08" fill="#000"/>
<circle cx="447.90" cy="208.90" r="1.08" fill="#000"/>
<circle cx="434.40" cy="208.60" r="1.08" fill="#000"/>
<circle cx="428.80" cy="211.00" r="1.08" fill="#000"/>
<circle cx="432.00" cy="211.00" r="1.08" fill="#000"/>
<circle cx="435.30" cy="211.00" r="1.08" fill="#000"/>
<circle cx="438.60" cy="211.00" r="1.08" fill="#000"/>
<circle cx="441.90" cy="211.00" r="1.08" fill="#000"/>
<circle cx="445.20" cy="211.00" r="1.08" fill="#000"/>
<circle cx="448.50" cy="211.00" r="1.08" fill="#000"/>
<circle cx="451.50" cy="211.00" r="1.08" fill="#000"/>
<circle cx="431.00" cy="212.80" r="1.08" fill="#000"/>
<circle cx="434.40" cy="212.80" r="1.08" fill="#000"/>
<circle cx="437.70" cy="212.80" r="1.08" fill="#000"/>
<circle cx="440.90" cy="212.80" r="1.08" fill="#000"/>
<circle cx="444.50" cy="212.80" r="1.08" fill="#000"/>
<circle cx="447.90" cy="212.80" r="1.08" fill="#000"/>
<circle cx="451.00" cy="212.80" r="1.08" fill="#000"/>
<circle cx="428.80" cy="214.40" r="1.08" fill="#000"/>
<circle cx="432.40" cy="214.40" r="1.08" fill="#000"/>
<circle cx="436.00" cy="214.40" r="1.08" fill="#000"/>
<circle cx="439.50" cy="214.40" r="1.08" fill="#000"/>
<circle cx="443.00" cy="214.40" r="1.08" fill="#000"/>
<circle cx="446.60" cy="214.40" r="1.08" fill="#000"/>
<circle cx="450.00" cy="214.40" r="1.08" fill="#000"/>
<circle cx="452.70" cy="214.40" r="1.08" fill="#000"/>
<circle cx="431.00" cy="216.00" r="1.08" fill="#000"/>
<circle cx="434.40" cy="216.00" r="1.08" fill="#000"/>
<circle cx="437.70" cy="216.00" r="1.08" fill="#000"/>
<circle cx="440.90" cy="216.00" r="1.08" fill="#000"/>
<circle cx="444.50" cy="216.00" r="1.08" fill="#000"/>
<circle cx="447.90" cy="216.00" r="1.08" fill="#000"/>
<circle cx="451.00" cy="216.00" r="1.08" fill="#000"/>
<circle cx="431.00" cy="217.60" r="1.08" fill="#000"/>
<circle cx="434.40" cy="217.60" r="1.08" fill="#000"/>
<circle cx="444.50" cy="217.60" r="1.08" fill="#000"/>
<circle cx="451.00" cy="217.60" r="1.08" fill="#000"/>
<circle cx="437.70" cy="219.20" r="1.08" fill="#000"/>
<circle cx="440.90" cy="219.20" r="1.08" fill="#000"/>
<circle cx="444.50" cy="219.20" r="1.08" fill="#000"/>
<circle cx="447.90" cy="219.20" r="1.08" fill="#000"/>
<circle cx="440.90" cy="220.60" r="1.08" fill="#000"/>
<circle cx="437.70" cy="222.50" r="1.08" fill="#000"/>
<circle cx="444.50" cy="222.50" r="1.08" fill="#000"/>
<circle cx="440.90" cy="223.60" r="1.08" fill="#000"/>
<circle cx="482.20" cy="183.50" r="1.08" fill="#000"/>
<circle cx="478.80" cy="186.70" r="1.08" fill="#000"/>
<circle cx="482.20" cy="187.30" r="1.08" fill="#000"/>
<circle cx="475.40" cy="191.70" r="1.08" fill="#000"/>
<circle cx="478.80" cy="193.30" r="1.08" fill="#000"/>
<circle cx="482.20" cy="194.20" r="1.08" fill="#000"/>
<circle cx="485.60" cy="193.50" r="1.08" fill="#000"/>
<circle cx="489.00" cy="191.90" r="1.08" fill="#000"/>
<circle cx="473.70" cy="196.80" r="1.08" fill="#000"/>
<circle cx="477.10" cy="196.80" r="1.08" fill="#000"/>
<circle cx="480.50" cy="196.80" r="1.08" fill="#000"/>
<circle cx="483.90" cy="196.80" r="1.08" fill="#000"/>
<circle cx="487.30" cy="196.80" r="1.08" fill="#000"/>
<circle cx="490.70" cy="196.80" r="1.08" fill="#000"/>
<circle cx="475.40" cy="199.20" r="1.08" fill="#000"/>
<circle cx="478.80" cy="199.20" r="1.08" fill="#000"/>
<circle cx="482.20" cy="199.20" r="1.08" fill="#000"/>
<circle cx="485.60" cy="199.20" r="1.08" fill="#000"/>
<circle cx="489.00" cy="199.20" r="1.08" fill="#000"/>
<circle cx="473.70" cy="201.60" r="1.08" fill="#000"/>
<circle cx="477.10" cy="201.60" r="1.08" fill="#000"/>
<circle cx="480.50" cy="201.60" r="1.08" fill="#000"/>
<circle cx="483.90" cy="201.60" r="1.08" fill="#000"/>
<circle cx="487.30" cy="201.60" r="1.08" fill="#000"/>
<circle cx="490.70" cy="201.60" r="1.08" fill="#000"/>
<circle cx="472.00" cy="204.00" r="1.08" fill="#000"/>
<circle cx="475.40" cy="204.00" r="1.08" fill="#000"/>
<circle cx="478.80" cy="204.00" r="1.08" fill="#000"/>
<circle cx="482.20" cy="204.00" r="1.08" fill="#000"/>
<circle cx="485.60" cy="204.00" r="1.08" fill="#000"/>
<circle cx="489.00" cy="204.00" r="1.08" fill="#000"/>
<circle cx="492.40" cy="204.00" r="1.08" fill="#000"/>
<circle cx="473.70" cy="206.40" r="1.08" fill="#000"/>
<circle cx="477.10" cy="206.40" r="1.08" fill="#000"/>
<circle cx="480.50" cy="206.40" r="1.08" fill="#000"/>
<circle cx="483.90" cy="206.40" r="1.08" fill="#000"/>
<circle cx="487.30" cy="206.40" r="1.08" fill="#000"/>
<circle cx="490.70" cy="206.40" r="1.08" fill="#000"/>
<circle cx="472.00" cy="208.80" r="1.08" fill="#000"/>
<circle cx="475.40" cy="208.80" r="1.08" fill="#000"/>
<circle cx="478.80" cy="208.80" r="1.08" fill="#000"/>
<circle cx="482.20" cy="208.80" r="1.08" fill="#000"/>
<circle cx="485.60" cy="208.80" r="1.08" fill="#000"/>
<circle cx="489.00" cy="208.80" r="1.08" fill="#000"/>
<circle cx="492.40" cy="208.80" r="1.08" fill="#000"/>
<circle cx="473.70" cy="211.20" r="1.08" fill="#000"/>
<circle cx="477.10" cy="211.20" r="1.08" fill="#000"/>
<circle cx="480.50" cy="211.20" r="1.08" fill="#000"/>
<circle cx="483.90" cy="211.20" r="1.08" fill="#000"/>
<circle cx="487.30" cy="211.20" r="1.08" fill="#000"/>
<circle cx="490.70" cy="211.20" r="1.08" fill="#000"/>
<circle cx="475.40" cy="213.60" r="1.08" fill="#000"/>
<circle cx="478.80" cy="213.60" r="1.08" fill="#000"/>
<circle cx="482.20" cy="213.60" r="1.08" fill="#000"/>
<circle cx="485.60" cy="213.60" r="1.08" fill="#000"/>
<circle cx="489.00" cy="213.60" r="1.08" fill="#000"/>
<circle cx="478.80" cy="216.00" r="1.08" fill="#000"/>
<circle cx="485.60" cy="216.20" r="1.08" fill="#000"/>
<circle cx="482.20" cy="217.00" r="1.08" fill="#000"/>
<circle cx="472.00" cy="218.30" r="1.08" fill="#000"/>
<circle cx="489.00" cy="218.30" r="1.08" fill="#000"/>
<circle cx="475.40" cy="219.10" r="1.08" fill="#000"/>
<circle cx="478.80" cy="220.50" r="1.08" fill="#000"/>
<circle cx="482.20" cy="220.60" r="1.08" fill="#000"/>
<circle cx="485.60" cy="220.40" r="1.08" fill="#000"/>
<circle cx="482.20" cy="224.30" r="1.08" fill="#000"/>
<line x1="427.80" y1="210.80" x2="455.10" y2="210.80" stroke="#e02828" stroke-width="1.0" />
<line x1="468.50" y1="205.40" x2="495.80" y2="205.40" stroke="#e02828" stroke-width="1.0" />
</svg>
</body></html>
